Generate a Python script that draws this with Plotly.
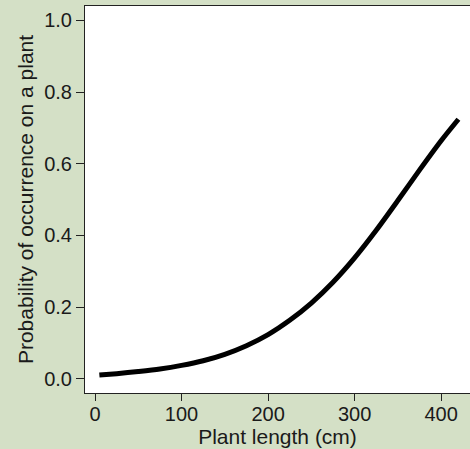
import plotly.graph_objects as go

# Values
plant_length = [5, 25, 50, 75, 100, 125, 150, 175, 200, 225, 250, 275, 300, 325, 350, 375, 400, 420]
probability = [0.010, 0.014, 0.020, 0.027, 0.037, 0.050, 0.068, 0.092, 0.123, 0.163, 0.211, 0.269,
               0.337, 0.414, 0.497, 0.582, 0.664, 0.724]

x_ticks = [0, 100, 200, 300, 400]
y_ticks = [0.0, 0.2, 0.4, 0.6, 0.8, 1.0]
y_tick_labels = ["0.0", "0.2", "0.4", "0.6", "0.8", "1.0"]

BG = "rgb(212,224,198)"
FONT = "Liberation Sans, Arial, sans-serif"

fig = go.Figure()
fig.add_trace(go.Scatter(
    x=plant_length, y=probability, mode="lines",
    line=dict(color="black", width=5, shape="spline", smoothing=0.8),
    hoverinfo="skip", showlegend=False,
))

fig.update_layout(
    width=470, height=449,
    margin=dict(l=85, r=0, t=6, b=56),
    paper_bgcolor=BG, plot_bgcolor="white",
    font=dict(family=FONT, size=20, color="#1a1a1a"),
    xaxis=dict(
        range=[-11.6, 433.4], tickvals=x_ticks, ticks="outside", ticklen=7,
        tickcolor="#222", showline=True, linecolor="#222", linewidth=1, mirror=True,
        showgrid=False, zeroline=False, tickfont=dict(size=20), ticklabelstandoff=-4,
        title=dict(text="Plant length (cm)", standoff=2, font=dict(size=21)),
    ),
    yaxis=dict(
        range=[-0.04, 1.04], tickvals=y_ticks, ticktext=y_tick_labels, ticks="outside",
        ticklen=8, tickcolor="#222", showline=True, linecolor="#222", linewidth=1,
        showgrid=False, zeroline=False, tickfont=dict(size=20),
        title=dict(text="Probability of occurrence on a plant", standoff=4, font=dict(size=21)),
    ),
)

fig.write_html(
    "out.html",
    config={"displayModeBar": False},
    post_script="document.body.style.margin='0';document.body.style.overflow='hidden';",
)
